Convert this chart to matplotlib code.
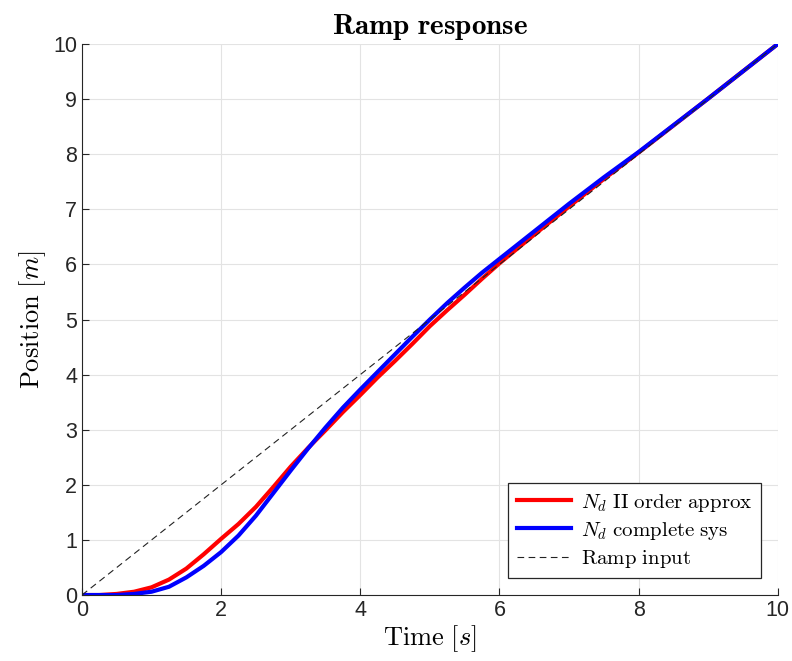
import numpy as np
import matplotlib
matplotlib.use("Agg")
import matplotlib.pyplot as plt

# values
t = [0, 0.25, 0.5, 0.75, 1.0, 1.25, 1.5, 1.75, 2.0, 2.25, 2.5, 2.75, 3.0, 3.25,
     3.5, 3.75, 4.0, 4.25, 4.5, 4.75, 5.0, 5.25, 5.5, 5.75, 6.0, 6.5, 7.0, 7.5,
     8.0, 9.0, 10.0]
y_approx = [0, 0.0, 0.02, 0.06, 0.14, 0.28, 0.48, 0.74, 1.02, 1.29, 1.60, 1.96,
            2.33, 2.67, 2.99, 3.32, 3.63, 3.95, 4.25, 4.56, 4.88, 5.17, 5.45,
            5.74, 6.02, 6.54, 7.05, 7.55, 8.03, 9.01, 10.0]
y_complete = [0, 0.0, 0.0, 0.02, 0.06, 0.15, 0.32, 0.53, 0.78, 1.08, 1.44, 1.85,
              2.26, 2.66, 3.04, 3.40, 3.73, 4.05, 4.37, 4.69, 5.0, 5.30, 5.58,
              5.85, 6.1, 6.6, 7.1, 7.58, 8.04, 9.01, 10.0]
t_ramp = [0, 10]
y_ramp = [0, 10]

plt.rcParams['mathtext.fontset'] = 'cm'
plt.rcParams['font.family'] = ['Liberation Sans', 'DejaVu Sans']

fig = plt.figure(figsize=(7.92, 6.61), dpi=100)
ax = fig.add_axes([0.1035, 0.0998, 0.8785, 0.8336])

ax.plot(t, y_approx, color='#ff0000', lw=3, label=r'$N_d\ \mathrm{II\ order\ approx}$')
ax.plot(t, y_complete, color='#0000ff', lw=3, label=r'$N_d\ \mathrm{complete\ sys}$')
ax.plot(t_ramp, y_ramp, color='#222222', lw=0.8, ls=(0, (6, 4)), label=r'$\mathrm{Ramp\ input}$')

ax.set_xlim(0, 10)
ax.set_ylim(0, 10)
ax.set_xticks(np.arange(0, 11, 2))
ax.set_yticks(np.arange(0, 11, 1))
ax.grid(True, color='#e3e3e3', lw=0.8)
ax.set_axisbelow(True)
for s in ['top', 'right']:
    ax.spines[s].set_visible(False)
for s in ['left', 'bottom']:
    ax.spines[s].set_color('#262626')
ax.tick_params(direction='in', length=5, labelsize=15.5, colors='#262626')

ax.set_title(r'$\mathbf{Ramp\ response}$', fontsize=21, pad=7)
ax.set_xlabel(r'$\mathrm{Time}\ [s]$', fontsize=19, labelpad=2)
ax.set_ylabel(r'$\mathrm{Position}\ [m]$', fontsize=19, labelpad=4)

leg = ax.legend(loc='lower right', fontsize=15, fancybox=False, framealpha=1,
                edgecolor='#262626', borderaxespad=0.8, handlelength=2.6,
                labelspacing=0.3, handletextpad=0.5, borderpad=0.4)
leg.get_frame().set_linewidth(0.9)

fig.savefig('out.png', dpi=100)
